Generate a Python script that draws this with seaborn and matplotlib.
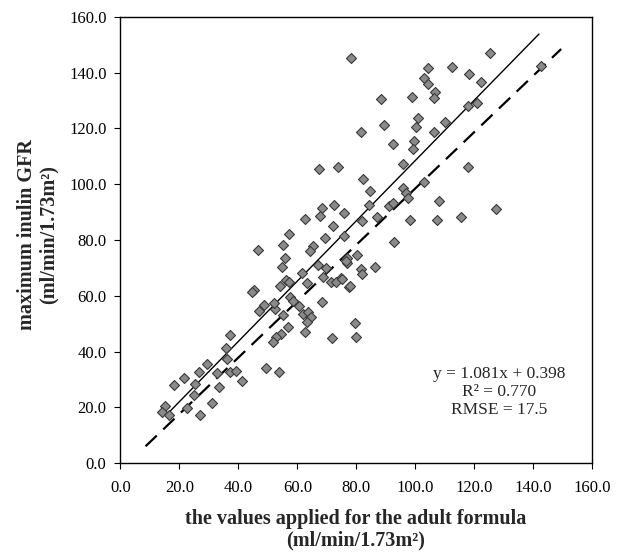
import matplotlib
matplotlib.use("Agg")
import matplotlib.pyplot as plt
from matplotlib.ticker import FormatStrFormatter
import pandas as pd
import seaborn as sns

# GFR estimated with the adult formula (x) vs. measured maximum inulin GFR (y)
adult_formula = [
    78.3, 125.4, 104.2, 112.4, 118.2, 122.2, 103.0, 104.2, 106.6, 106.2,
    88.4, 98.9, 117.9, 121.0, 142.5, 101.0, 100.4, 89.5, 81.6, 110.1,
    106.3, 92.3, 99.7, 99.1, 67.2, 73.8, 96.0, 118.0, 82.4, 84.5,
    95.7, 96.9, 97.7, 103.0, 84.2, 91.2, 92.3, 75.7, 82.0, 86.9,
    108.1, 127.3, 98.3, 107.3, 115.4, 75.7, 92.9, 80.2, 76.8, 62.7,
    68.4, 67.6, 72.6, 72.1, 69.5, 65.3, 64.2, 57.1, 55.0, 46.5,
    55.7, 54.8, 76.8, 67.0, 69.8, 61.6, 68.7, 71.5, 74.9, 73.2,
    77.5, 63.3, 56.3, 54.1, 57.1, 45.4, 44.5, 57.4, 58.5, 60.6,
    48.8, 47.1, 52.4, 55.0, 61.9, 63.6, 64.8, 63.2, 68.5, 62.7,
    56.9, 54.6, 52.9, 51.6, 71.7, 79.4, 80.0, 37.2, 35.8, 36.3,
    37.2, 39.1, 41.1, 32.9, 33.5, 29.3, 26.8, 25.3, 25.0, 31.0,
    21.7, 18.0, 22.5, 27.0, 15.0, 14.1, 16.3, 49.5, 53.7, 76.4,
    81.6, 82.0, 86.5, 75.2, 77.7, 52.2,
]
inulin_gfr = [
    145.4, 146.9, 141.8, 141.9, 139.4, 136.5, 138.0, 136.0, 133.2, 131.1,
    130.6, 131.2, 127.9, 129.0, 142.5, 123.9, 120.7, 121.1, 118.7, 122.5,
    118.9, 114.4, 115.6, 112.8, 105.5, 106.2, 107.3, 106.1, 101.9, 97.7,
    98.7, 96.9, 95.1, 100.8, 92.7, 92.1, 93.3, 89.8, 86.8, 88.2,
    93.9, 91.0, 87.0, 87.0, 88.2, 81.4, 79.3, 74.6, 73.7, 87.4,
    91.5, 88.6, 92.5, 85.0, 80.8, 77.9, 76.0, 82.3, 78.1, 76.5,
    73.5, 70.4, 71.9, 71.1, 70.1, 68.1, 66.8, 65.1, 66.2, 64.8,
    63.2, 64.4, 65.6, 63.6, 65.1, 62.1, 61.5, 59.4, 58.0, 56.4,
    56.8, 54.6, 55.2, 53.2, 53.4, 54.0, 52.3, 50.5, 57.6, 46.9,
    48.7, 46.3, 45.1, 43.3, 44.8, 50.1, 45.1, 46.0, 41.2, 37.4,
    32.6, 33.0, 29.6, 32.3, 27.3, 35.4, 32.6, 28.2, 24.3, 21.5,
    30.6, 27.9, 19.8, 17.1, 20.5, 18.3, 17.1, 34.2, 32.6, 72.5,
    69.5, 67.8, 70.4, 66.0, 63.6, 57.5,
]

# regression line and its statistics
slope, intercept = 1.081, 0.398
r_squared = 0.770
rmse = 17.5
fit_x = [16.0, 142.0]

# dashed reference line
ref_x = [8.5, 149.5]
ref_y = [6.0, 148.5]

axis_ticks = [0, 20, 40, 60, 80, 100, 120, 140, 160]

sns.set_theme(style="ticks")
plt.rcParams["font.family"] = ["Liberation Serif", "DejaVu Serif"]

df = pd.DataFrame({"adult": adult_formula, "inulin": inulin_gfr})

fig = plt.figure(figsize=(6.23, 5.53), dpi=100)
ax = fig.add_axes([0.1934, 0.1627, 0.757, 0.8066])

fit_df = pd.DataFrame({"x": fit_x, "y": [slope * v + intercept for v in fit_x]})
ax.plot(fit_df["x"], fit_df["y"], color="black", lw=1.0, zorder=2)
ax.plot(ref_x, ref_y, color="black", lw=1.6, dashes=(7, 4), zorder=2)

sns.scatterplot(data=df, x="adult", y="inulin", ax=ax, marker="D", s=26,
                color="#8a8a8a", edgecolor="#3a3a3a", linewidth=0.8, zorder=3)

ax.set_xlim(0, 160)
ax.set_ylim(0, 160)
ax.set_xticks(axis_ticks)
ax.set_yticks(axis_ticks)
ax.xaxis.set_major_formatter(FormatStrFormatter("%.1f"))
ax.yaxis.set_major_formatter(FormatStrFormatter("%.1f"))
ax.tick_params(axis="both", direction="out", length=4, width=0.8,
               labelsize=12, colors="black")
ax.tick_params(axis="x", pad=8)
ax.tick_params(axis="y", pad=6)
for side in ["left", "right", "top", "bottom"]:
    ax.spines[side].set_visible(True)
    ax.spines[side].set_color("black")
    ax.spines[side].set_linewidth(1.0)

ax.set_xlabel("")
ax.set_ylabel("")

ax.text(128.6, 25.4,
        f"y = {slope:.3f}x + {intercept:.3f}\nR² = {r_squared:.3f}\nRMSE = {rmse:.1f}",
        ha="center", va="center", multialignment="center", fontsize=12.5,
        linespacing=1.15)

fig.text(356 / 623, 1 - 530 / 553,
         "the values applied for the adult formula\n(ml/min/1.73m²)",
         ha="center", va="center", fontsize=14.5, fontweight="bold",
         linespacing=1.1)
fig.text(38 / 623, 1 - 235 / 553,
         "maximum inulin GFR\n(ml/min/1.73m²)",
         ha="center", va="center", rotation=90, fontsize=14.5,
         fontweight="bold", linespacing=1.1)

fig.savefig("out.png", dpi=100, facecolor="white")
